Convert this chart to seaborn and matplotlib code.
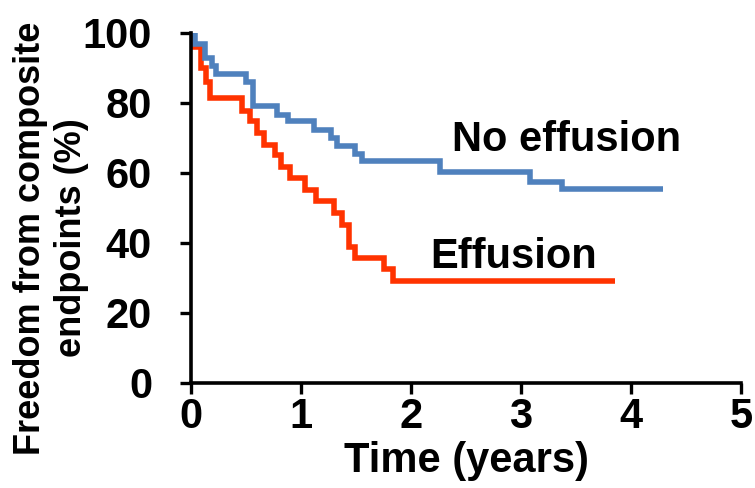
import matplotlib
matplotlib.use("Agg")
import matplotlib.pyplot as plt
import seaborn as sns
import pandas as pd

# ---- data ----
no_eff_time = [0.0, 0.04, 0.13, 0.19, 0.23, 0.50, 0.56, 0.78, 0.885, 1.12, 1.27, 1.33,
               1.49, 1.55, 2.26, 3.08, 3.37, 4.29]
no_eff_surv = [100, 97, 93, 90.7, 88.3, 85.9, 79.2, 76.6, 75.0, 72.4, 70.0, 67.7,
               65.3, 63.4, 60.2, 57.5, 55.4, 55.4]

eff_time = [0.0, 0.02, 0.09, 0.14, 0.17, 0.46, 0.54, 0.60, 0.66, 0.76, 0.82, 0.90,
            1.04, 1.14, 1.30, 1.37, 1.44, 1.49, 1.75, 1.84, 3.85]
eff_surv = [100, 96, 90, 86, 81.5, 77.7, 74.8, 71.4, 68.1, 65.1, 61.8, 58.5,
            55.1, 52.0, 48.5, 45.1, 38.8, 35.8, 32.6, 29.1, 29.1]

group_names = ["No effusion", "Effusion"]
x_ticks = [0, 1, 2, 3, 4, 5]
y_ticks = [0, 20, 40, 60, 80, 100]
x_label = "Time (years)"
y_label = "Freedom from composite\nendpoints (%)"

colors = {"No effusion": "#4F81BD", "Effusion": "#FF3300"}

df = pd.concat([
    pd.DataFrame({"time": eff_time, "surv": eff_surv, "group": group_names[1]}),
    pd.DataFrame({"time": no_eff_time, "surv": no_eff_surv, "group": group_names[0]}),
])

sns.set_style("ticks")
plt.rcParams["font.family"] = ["Liberation Sans", "DejaVu Sans"]
plt.rcParams["font.weight"] = "bold"
plt.rcParams["text.color"] = "black"
plt.rcParams["axes.labelcolor"] = "black"
plt.rcParams["xtick.color"] = "black"
plt.rcParams["ytick.color"] = "black"
plt.rcParams["xtick.major.size"] = 8
plt.rcParams["ytick.major.size"] = 8
plt.rcParams["xtick.major.width"] = 2.4
plt.rcParams["ytick.major.width"] = 2.4

fig = plt.figure(figsize=(7.55, 4.88), dpi=100)
ax = fig.add_axes([191 / 755, 1 - 383 / 488, 550 / 755, 350 / 488])

for g in [group_names[1], group_names[0]]:
    sub = df[df["group"] == g]
    sns.lineplot(data=sub, x="time", y="surv", ax=ax, color=colors[g],
                 drawstyle="steps-post", estimator=None, linewidth=4.0,
                 sort=False, legend=False)
for line in ax.lines:
    line.set_linewidth(4.0)
    line.set_solid_joinstyle("miter")
    line.set_solid_capstyle("butt")

ax.set_xlim(0, 5)
ax.set_ylim(0, 100)
ax.set_xticks(x_ticks)
ax.set_yticks(y_ticks)
ax.set_xticklabels([str(v) for v in x_ticks])
ax.set_yticklabels([str(v) for v in y_ticks])

for s in ["top", "right"]:
    ax.spines[s].set_visible(False)
for s in ["left", "bottom"]:
    ax.spines[s].set_linewidth(2.6)
    ax.spines[s].set_color("black")

ax.tick_params(axis="both", which="major", direction="out", length=8, width=2.4,
               color="black", labelsize=30, labelcolor="black",
               bottom=True, left=True, top=False, right=False)
ax.tick_params(axis="y", pad=20)
ax.tick_params(axis="x", pad=2)
for t in ax.xaxis.get_major_ticks() + ax.yaxis.get_major_ticks():
    t.tick1line.set_visible(True)
for lab in ax.get_xticklabels() + ax.get_yticklabels():
    lab.set_fontweight("bold")

ax.set_xlabel(x_label, fontsize=30, fontweight="bold", labelpad=3, color="black")
ax.set_ylabel(y_label, fontsize=26, fontweight="bold", linespacing=1.25,
              multialignment="center", color="black")
ax.yaxis.label.set_verticalalignment("center")
ax.yaxis.set_label_coords((51 - 191) / 550, (383 - 238) / 350)

ax.text(3.414, 66.3, group_names[0], fontsize=30, fontweight="bold",
        ha="center", va="baseline", color="black")
ax.text(2.93, 32.9, group_names[1], fontsize=30, fontweight="bold",
        ha="center", va="baseline", color="black")

fig.savefig("out.png", dpi=100)
